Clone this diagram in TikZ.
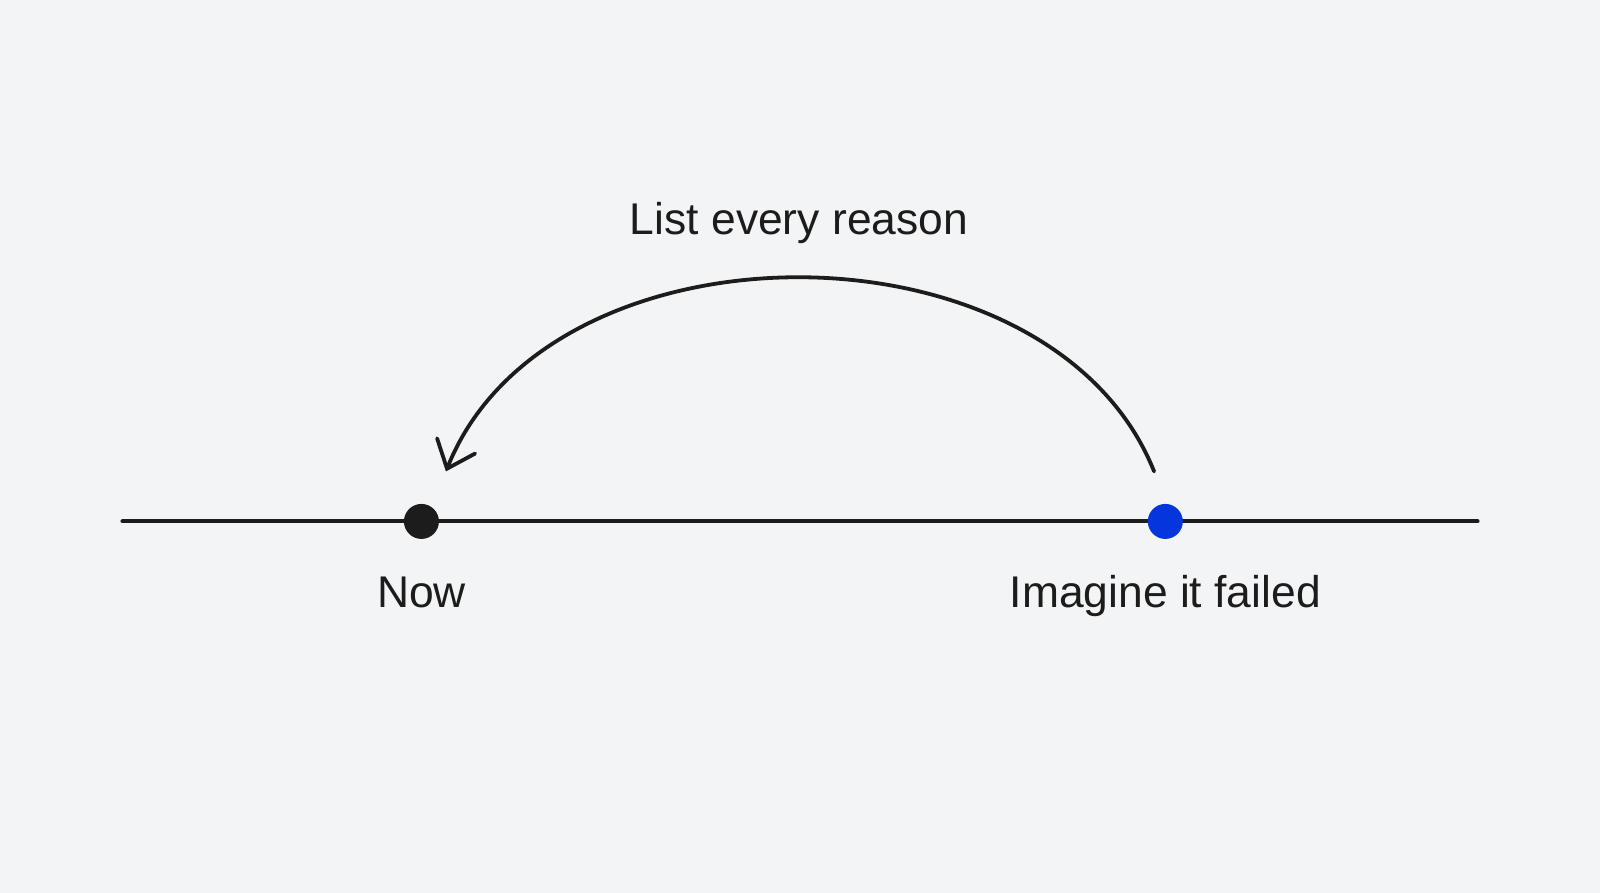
\documentclass[tikz,border=0pt]{standalone}
\usepackage{fontspec}
\setmainfont{Liberation Sans}
\usetikzlibrary{arrows.meta}
\definecolor{bg}{HTML}{F3F4F5}
\definecolor{ink}{HTML}{1C1C1C}
\definecolor{dotblue}{HTML}{0535DD}
\begin{document}
\begin{tikzpicture}[x=1.0204pt,y=-1.0204pt,
  axis/.style={draw=ink,line width=4pt,line cap=round},
  dotnode/.style={circle,inner sep=0pt,minimum size=35pt},
  lbl/.style={text=ink,font=\fontsize{44.4}{50}\selectfont,inner sep=0pt,anchor=base},
  arc/.style={draw=ink,line width=3.8pt,line cap=round,-{Straight Barb[length=24.5pt,width=41pt,line cap=round]}}]
\fill[bg] (0,0) rectangle (1568,875);
\useasboundingbox (0,0) rectangle (1568,875);
\coordinate (L) at (120,511);
\coordinate (R) at (1448,511);
\draw[axis] (L) -- (R);
\node[dotnode,fill=ink] (now) at (413,511) {};
\node[dotnode,fill=dotblue] (fail) at (1142,511) {};
\node[lbl] (nowlbl) at (413,595) {Now};
\node[lbl] (faillbl) at (1142,595) {Imagine it failed};
\node[lbl] (reason) at (783,230) {List every reason};
\coordinate (s) at (1131,462);
\coordinate (e) at (437,462);
\draw[arc] (s) .. controls (1030,209) and (538,209) .. (e);
\end{tikzpicture}
\end{document}
